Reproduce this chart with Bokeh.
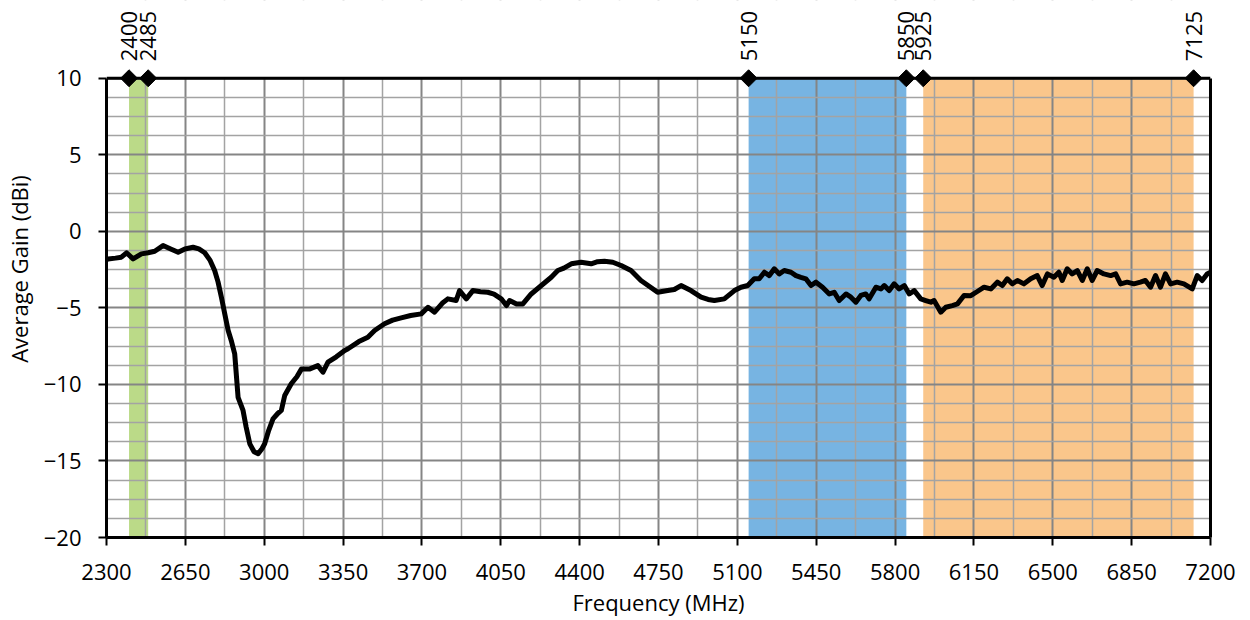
import math
from bokeh.plotting import figure
from bokeh.models import (FixedTicker, LinearAxis, Span, BoxAnnotation,
                          ColumnDataSource, Range1d)
from bokeh.core.properties import value
from bokeh.embed import file_html
from bokeh.resources import INLINE

# ---------------- data ----------------
freq = [2300, 2307, 2340, 2366, 2389, 2418, 2455, 2485, 2514, 2551, 2585, 2618, 2648, 2684,
        2710, 2736, 2760, 2780, 2795, 2810, 2825, 2840, 2855, 2869, 2884, 2906, 2920, 2936,
        2955, 2973, 2990, 3002, 3020, 3039, 3060, 3076, 3091, 3120, 3145, 3165, 3200, 3238,
        3261, 3283, 3320, 3357, 3372, 3420, 3460, 3490, 3534, 3570, 3608, 3650, 3697, 3727,
        3756, 3790, 3815, 3852, 3867, 3897, 3926, 3960, 3992, 4020, 4052, 4075, 4089, 4120,
        4148, 4185, 4230, 4274, 4303, 4330, 4363, 4406, 4451, 4480, 4510, 4547, 4584, 4628,
        4672, 4710, 4746, 4791, 4820, 4850, 4894, 4939, 4970, 4998, 5042, 5087, 5116, 5146,
        5175, 5197, 5220, 5242, 5264, 5286, 5308, 5338, 5360, 5382, 5404, 5427, 5449, 5478,
        5508, 5530, 5552, 5582, 5604, 5626, 5648, 5670, 5685, 5715, 5737, 5752, 5774, 5796,
        5818, 5841, 5863, 5885, 5914, 5936, 5959, 5973, 6003, 6025, 6054, 6077, 6106, 6136,
        6165, 6195, 6225, 6254, 6276, 6298, 6320, 6343, 6372, 6402, 6431, 6453, 6476, 6505,
        6527, 6542, 6564, 6586, 6609, 6631, 6653, 6675, 6697, 6727, 6757, 6779, 6801, 6830,
        6860, 6889, 6911, 6934, 6956, 6978, 7000, 7023, 7052, 7082, 7119, 7141, 7163, 7185,
        7200]
gain = [-1.85, -1.80, -1.75, -1.69, -1.40, -1.80, -1.47, -1.40, -1.30, -0.93, -1.15, -1.37,
        -1.15, -1.04, -1.15, -1.40, -1.90, -2.56, -3.30, -4.30, -5.40, -6.48, -7.20, -8.00,
        -10.84, -11.70, -12.80, -13.88, -14.40, -14.53, -14.20, -13.88, -13.00, -12.25, -11.90,
        -11.70, -10.72, -9.96, -9.50, -9.00, -9.00, -8.77, -9.20, -8.55, -8.20, -7.79, -7.67,
        -7.20, -6.92, -6.48, -6.04, -5.80, -5.65, -5.50, -5.39, -4.96, -5.28, -4.70, -4.41,
        -4.52, -3.87, -4.41, -3.87, -3.95, -3.98, -4.10, -4.41, -4.85, -4.52, -4.75, -4.74,
        -4.09, -3.54, -3.00, -2.56, -2.40, -2.12, -2.02, -2.12, -1.98, -1.95, -2.02, -2.23,
        -2.56, -3.21, -3.60, -3.98, -3.87, -3.80, -3.54, -3.87, -4.30, -4.45, -4.52, -4.41,
        -3.87, -3.65, -3.54, -3.10, -3.10, -2.67, -2.89, -2.45, -2.78, -2.56, -2.67, -2.89,
        -3.00, -3.10, -3.54, -3.32, -3.65, -4.09, -3.98, -4.52, -4.09, -4.30, -4.63, -4.19,
        -4.09, -4.41, -3.65, -3.76, -3.54, -3.87, -3.43, -3.76, -3.54, -4.09, -3.87, -4.41,
        -4.52, -4.63, -4.52, -5.28, -4.96, -4.85, -4.74, -4.19, -4.20, -3.93, -3.65, -3.76,
        -3.32, -3.54, -3.10, -3.43, -3.21, -3.43, -3.10, -2.89, -3.54, -2.78, -3.00, -2.67,
        -3.21, -2.45, -2.78, -2.56, -3.21, -2.45, -3.21, -2.56, -2.78, -2.89, -2.78, -3.43,
        -3.32, -3.43, -3.32, -3.21, -3.65, -2.89, -3.65, -2.78, -3.43, -3.32, -3.43, -3.76,
        -2.89, -3.21, -2.78, -2.67]

band_start = [2400, 5150, 5925]
band_end = [2485, 5850, 7125]
band_colors = ["#BBDA88", "#77B4E2", "#FAC68B"]

edge_values = [2400, 2485, 5150, 5850, 5925, 7125]
edge_labels = ["2400", "2485", "5150", "5850", "5925", "7125"]

x_ticks = [2300, 2650, 3000, 3350, 3700, 4050, 4400, 4750, 5100, 5450, 5800, 6150, 6500, 6850, 7200]
x_minor = [2475, 2825, 3175, 3525, 3875, 4225, 4575, 4925, 5275, 5625, 5975, 6325, 6675, 7025]
y_ticks = [-20, -15, -10, -5, 0, 5, 10]
y_minor = [-18.75, -17.5, -16.25, -13.75, -12.5, -11.25, -8.75, -7.5, -6.25,
           -3.75, -2.5, -1.25, 1.25, 2.5, 3.75, 6.25, 7.5, 8.75]

x_min, x_max = 2300, 7200
y_min, y_max = -20, 10
head_room = 5.08   # space above the plot box for the band-edge labels

FONT = "Open Sans"

p = figure(width=1240, height=620,
           x_range=Range1d(x_min, x_max), y_range=Range1d(y_min, y_max + head_room),
           output_backend="svg", toolbar_location=None,
           min_border_left=105, min_border_top=0, min_border_right=30, min_border_bottom=83)
p.outline_line_color = None
p.background_fill_color = "white"

# bands (below grid)
p.quad(left=band_start, right=band_end, bottom=y_min, top=y_max,
       fill_color=band_colors, line_color=None, level="image")

# grids
xt = FixedTicker(ticks=x_ticks, minor_ticks=x_minor)
yt = FixedTicker(ticks=y_ticks, minor_ticks=y_minor)
p.xgrid.ticker = xt
p.ygrid.ticker = yt
for g in (p.xgrid, p.ygrid):
    g.grid_line_color = "#858585"
    g.grid_line_width = 2
    g.minor_grid_line_color = "#A3A3A3"
    g.minor_grid_line_width = 1.5

# data line
p.line(freq, gain, line_color="black", line_width=5, line_join="round")

# cover grid lines above the top border
p.add_layout(BoxAnnotation(bottom=y_max, fill_color="white", fill_alpha=1.0,
                           line_color=None, level="guide"))
p.add_layout(Span(location=y_max, dimension="width", line_color="black",
                  line_width=3, level="annotation"))

# band edge diamonds + labels
p.scatter(edge_values, [y_max] * len(edge_values), marker="square", angle=math.pi / 4,
          size=12, fill_color="black", line_color="black", level="overlay")
lab_src = ColumnDataSource(dict(x=edge_values, y=[y_max] * len(edge_values), t=edge_labels))
p.text(x="x", y="y", text="t", source=lab_src, angle=math.pi / 2,
       text_align="left", text_baseline="middle", y_offset=-17,
       text_font=value(FONT), text_font_size="22px", text_color="black",
       level="overlay")

# axes
xa = p.xaxis[0]
xa.ticker = xt
xa.axis_label = "Frequency (MHz)"
ya = p.yaxis[0]
ya.ticker = yt
ya.bounds = (y_min, y_max)
ya.axis_label = "Average Gain (dBi)"
for a in (xa, ya):
    a.axis_line_color = "black"
    a.axis_line_width = 3
    a.major_tick_line_color = "black"
    a.major_tick_line_width = 2
    a.major_tick_out = 8
    a.major_tick_in = 0
    a.minor_tick_line_color = None
    a.major_label_text_font = FONT
    a.major_label_text_font_size = "22px"
    a.major_label_text_color = "black"
    a.axis_label_text_font = FONT
    a.axis_label_text_font_size = "22px"
    a.axis_label_text_font_style = "normal"
    a.axis_label_text_color = "black"
xa.major_label_standoff = 18
xa.axis_label_standoff = 4
ya.major_label_standoff = 17
ya.axis_label_standoff = 7

ra = LinearAxis(ticker=FixedTicker(ticks=[]), bounds=(y_min, y_max),
                axis_line_color="black", axis_line_width=3,
                major_tick_line_color=None, minor_tick_line_color=None,
                major_label_text_font_size="0px")
p.add_layout(ra, "right")

open("out.html", "w").write(file_html(p, INLINE))
